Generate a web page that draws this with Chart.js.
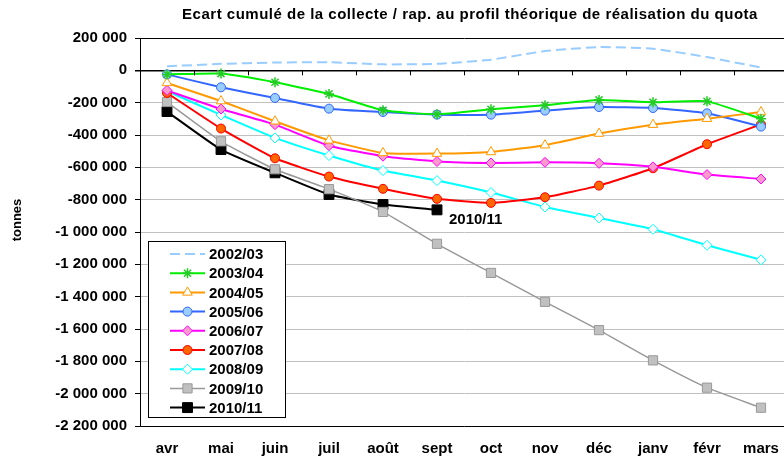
<!DOCTYPE html>
<html>
<head>
<meta charset="utf-8">
<style>
  html, body { margin: 0; padding: 0; background: #fff; overflow: hidden; }
  #wrap { width: 796px; height: 461px; }
</style>
<script src="https://cdn.jsdelivr.net/npm/chart.js@4"></script>
</head>
<body>
<div id="wrap"><canvas id="quotaChart" width="796" height="461"></canvas></div>
<script>
const months = ['avr', 'mai', 'juin', 'juil', 'août', 'sept', 'oct', 'nov', 'déc', 'janv', 'févr', 'mars'];

const s0203 = [25000, 40000, 48000, 50000, 37000, 40000, 66000, 119000, 144000, 134000, 82000, 17000];
const s0304 = [-25000, -20000, -74000, -146000, -247000, -272000, -241000, -216000, -183000, -198000, -192000, -299000];
const s0405 = [-78000, -190000, -315000, -433000, -511000, -515000, -505000, -463000, -391000, -336000, -299000, -258000];
const s0506 = [-25000, -105000, -171000, -237000, -258000, -274000, -274000, -249000, -227000, -233000, -266000, -348000];
const s0607 = [-124000, -239000, -336000, -466000, -531000, -564000, -573000, -569000, -575000, -597000, -645000, -672000];
const s0708 = [-140000, -360000, -544000, -657000, -733000, -795000, -820000, -785000, -713000, -606000, -457000, -334000];
const s0809 = [-128000, -276000, -418000, -527000, -620000, -682000, -756000, -845000, -913000, -983000, -1082000, -1172000];
const s0910 = [-196000, -439000, -612000, -735000, -876000, -1073000, -1253000, -1432000, -1607000, -1794000, -1963000, -2087000];
const s1011 = [-255000, -490000, -634000, -768000, -830000, -863000, null, null, null, null, null, null];

const yTicks = [200000, 0, -200000, -400000, -600000, -800000, -1000000, -1200000, -1400000, -1600000, -1800000, -2000000, -2200000];

const FONT = '"Liberation Sans", Arial, sans-serif';

function fmt(v) {
    const s = String(Math.abs(v)).replace(/\B(?=(\d{3})+(?!\d))/g, ' ');
    return (v < 0 ? '-' : '') + s;
}

function series(label, data, color, extra) {
    return Object.assign({
        label: label,
        data: data,
        borderColor: color,
        borderWidth: 2,
        tension: 0.15,
        fill: false,
        spanGaps: false,
        pointRadius: 4.5,
        pointBorderWidth: 1,
        pointBorderColor: color
    }, extra);
}

const datasets = [
    series('2002/03', s0203, '#99ccff', { borderDash: [10, 5], pointRadius: 0, pointStyle: false }),
    series('2003/04', s0304, '#00ee00', { pointStyle: 'star', pointRadius: 5, pointBorderColor: '#22cc22', pointBackgroundColor: '#22cc22', pointBorderWidth: 1.5 }),
    series('2004/05', s0405, '#ff9900', { pointStyle: 'triangle', pointRadius: 5.5, pointBackgroundColor: '#ffffff' }),
    series('2005/06', s0506, '#3366ff', { pointStyle: 'circle', pointRadius: 4.5, pointBackgroundColor: '#99ccff' }),
    series('2006/07', s0607, '#ff00ff', { pointStyle: 'rectRot', pointRadius: 5, pointBackgroundColor: '#ff99cc' }),
    series('2007/08', s0708, '#ff0000', { pointStyle: 'circle', pointRadius: 4.5, pointBackgroundColor: '#ff6600' }),
    series('2008/09', s0809, '#00ffff', { pointStyle: 'rectRot', pointRadius: 5, pointBackgroundColor: '#ffffff' }),
    series('2009/10', s0910, '#999999', { borderWidth: 1.5, pointStyle: 'rect', pointRadius: 6.5, pointBackgroundColor: '#c0c0c0' }),
    series('2010/11', s1011, '#000000', { pointStyle: 'rect', pointRadius: 7, pointBackgroundColor: '#000000' })
];

// title, axis title, tick marks on the zero line, legend box, end label
const extras = {
    id: 'extras',
    afterDraw(chart) {
        const ctx = chart.ctx;
        const area = chart.chartArea;
        const x = chart.scales.x;
        const y = chart.scales.y;
        ctx.save();

        // title
        ctx.fillStyle = '#000';
        ctx.font = 'bold 15px ' + FONT;
        ctx.letterSpacing = '0.5px';
        ctx.textAlign = 'center';
        ctx.textBaseline = 'middle';
        ctx.fillText('Ecart cumulé de la collecte / rap. au profil théorique de réalisation du quota', 470, 15);
        ctx.letterSpacing = '0px';

        // y axis title
        ctx.save();
        ctx.translate(17.5, 220);
        ctx.rotate(-Math.PI / 2);
        ctx.font = 'bold 13px ' + FONT;
        ctx.fillText('tonnes', 0, 0);
        ctx.restore();

        // category tick marks on the 0 line
        const y0 = y.getPixelForValue(0);
        const step = (area.right - area.left) / months.length;
        ctx.strokeStyle = '#000';
        ctx.lineWidth = 1;
        ctx.beginPath();
        for (let i = 1; i < months.length; i++) {
            const px = Math.round(area.left + i * step) + 0.5;
            ctx.moveTo(px, y0);
            ctx.lineTo(px, y0 + 5);
        }
        ctx.stroke();

        // end label for 2010/11
        const last = 5;
        ctx.font = 'bold 15px ' + FONT;
        ctx.textAlign = 'left';
        ctx.fillText('2010/11', x.getPixelForValue(last) + 12, y.getPixelForValue(s1011[last]) + 10);

        // legend
        const lx = 148.5, ly = 241.5, lw = 137, lh = 176;
        ctx.fillStyle = '#fff';
        ctx.fillRect(lx, ly, lw, lh);
        ctx.strokeStyle = '#000';
        ctx.strokeRect(lx, ly, lw, lh);
        chart.data.datasets.forEach((ds, i) => {
            const ry = 254 + i * 19.2;
            ctx.save();
            ctx.strokeStyle = ds.borderColor;
            ctx.lineWidth = ds.borderWidth;
            ctx.setLineDash(ds.borderDash || []);
            ctx.beginPath();
            ctx.moveTo(170, ry);
            ctx.lineTo(205, ry);
            ctx.stroke();
            ctx.restore();
            if (ds.pointStyle) {
                ctx.save();
                ctx.fillStyle = ds.pointBackgroundColor;
                ctx.strokeStyle = ds.pointBorderColor;
                ctx.lineWidth = ds.pointBorderWidth;
                Chart.helpers.drawPoint(ctx, {
                    pointStyle: ds.pointStyle,
                    radius: ds.pointRadius,
                    rotation: 0,
                    borderWidth: ds.pointBorderWidth
                }, 187.5, ry);
                ctx.restore();
            }
            ctx.fillStyle = '#000';
            ctx.font = 'bold 15px ' + FONT;
            ctx.textAlign = 'left';
            ctx.textBaseline = 'middle';
            ctx.fillText(ds.label, 209, ry + 1);
        });
        ctx.restore();
    }
};

new Chart(document.getElementById('quotaChart'), {
    type: 'line',
    data: { labels: months, datasets: datasets },
    options: {
        responsive: false,
        animation: false,
        layout: { padding: { top: 38, right: 0, bottom: 0, left: 0 } },
        plugins: {
            legend: { display: false },
            tooltip: { enabled: false },
            title: { display: false }
        },
        scales: {
            x: {
                offset: true,
                grid: { display: false, drawTicks: true, tickLength: 14 },
                border: { display: true, color: '#000', width: 1 },
                ticks: {
                    color: '#000',
                    padding: 0,
                    maxRotation: 0,
                    font: { family: FONT, size: 15, weight: 'bold' }
                },
                afterFit(scale) { scale.height = 35; }
            },
            y: {
                min: -2200000,
                max: 200000,
                afterBuildTicks(scale) { scale.ticks = yTicks.map(v => ({ value: v })); },
                grid: {
                    color: ctx => (ctx.tick && (ctx.tick.value === 0 || ctx.tick.value === 200000)) ? '#000' : '#c0c0c0',
                    lineWidth: ctx => (ctx.tick && ctx.tick.value === 0) ? 1.5 : 1,
                    tickColor: '#000',
                    tickLength: 5
                },
                border: { display: true, color: '#000', width: 1 },
                ticks: {
                    color: '#000',
                    padding: 8,
                    font: { family: FONT, size: 15, weight: 'bold' },
                    callback: v => fmt(v)
                },
                afterFit(scale) { scale.width = 140; }
            }
        }
    },
    plugins: [extras]
});
</script>
</body>
</html>
